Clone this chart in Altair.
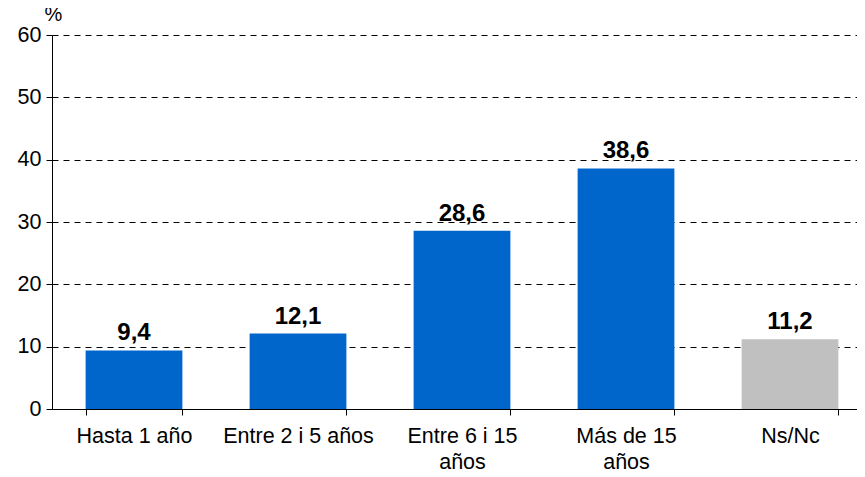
import altair as alt
import pandas as pd

categories = ["Hasta 1 año", "Entre 2 i 5 años", "Entre 6 i 15\naños", "Más de 15\naños", "Ns/Nc"]
values = [9.4, 12.1, 28.6, 38.6, 11.2]
labels = ["9,4", "12,1", "28,6", "38,6", "11,2"]
colors = ["#0066CC", "#0066CC", "#0066CC", "#0066CC", "#C0C0C0"]

df = pd.DataFrame({"cat": categories, "val": values, "lab": labels, "col": colors})

FONT = "Liberation Sans"

xscale = alt.Scale(paddingInner=0.41, paddingOuter=0.205, range=[0, 820])

x = alt.X("cat:N", sort=categories, title=None, scale=xscale,
          axis=alt.Axis(labelAngle=0, labelFontSize=21.5, labelFont=FONT, labelColor="black",
                        labelExpr="split(datum.label, '\\n')", labelLineHeight=26,
                        tickBand="extent", tickColor="black", tickSize=6,
                        domainColor="black", labelPadding=10))
y = alt.Y("val:Q", title="%",
          scale=alt.Scale(domain=[0, 60]),
          axis=alt.Axis(values=[0, 10, 20, 30, 40, 50, 60], labelFontSize=21.5, labelFont=FONT,
                        labelColor="black", tickColor="black", tickSize=6, domainColor="black",
                        labelPadding=5,
                        grid=True, gridColor="black", gridDash=[6, 5], gridWidth=1,
                        titleAngle=0, titleFont=FONT, titleFontSize=20, titleFontWeight="normal",
                        titleColor="black",
                        titleX=-8, titleY=-15, titleAlign="left", titleBaseline="alphabetic"))

bars = alt.Chart(df).mark_bar().encode(
    x=x, y=y, color=alt.Color("col:N", scale=None)
)
text = alt.Chart(df).mark_text(dy=-10, baseline="alphabetic", fontSize=24, fontWeight="bold",
                               font=FONT, color="black").encode(
    x=alt.X("cat:N", sort=categories, scale=xscale), y="val:Q", text="lab:N"
)

chart = (bars + text).properties(
    width=805, height=374, autosize="none",
    padding={"left": 44, "top": 27, "right": 0, "bottom": 60},
).configure_view(stroke=None)

chart.save("out.html", embed_options={"renderer": "svg", "actions": False})
